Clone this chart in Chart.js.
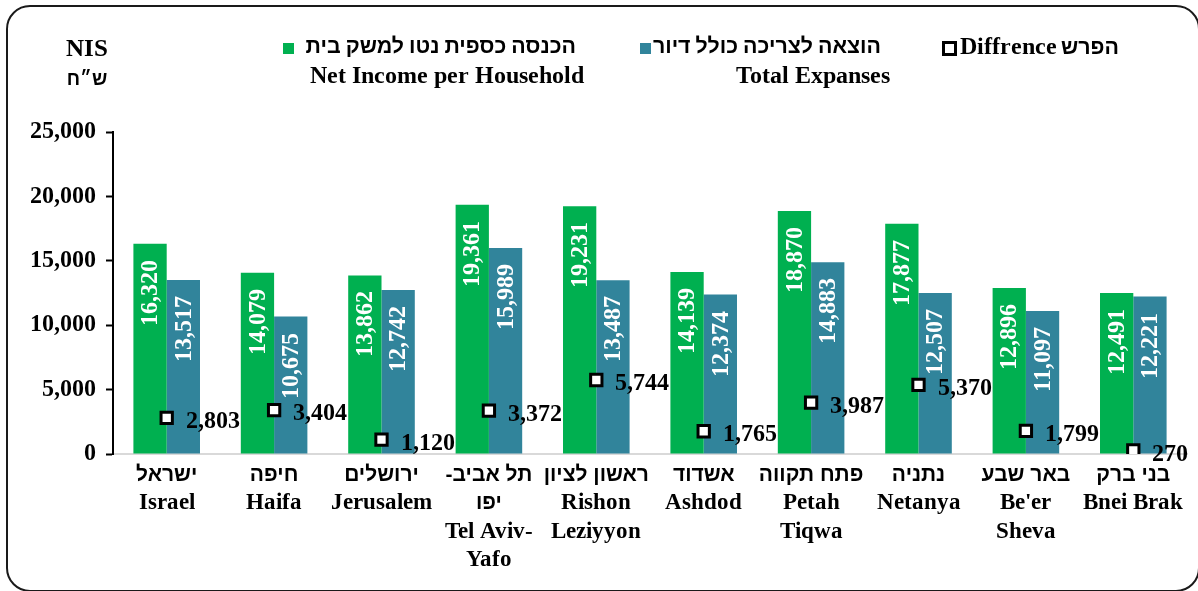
<!DOCTYPE html>
<html>
<head>
<meta charset="utf-8">
<script src="https://cdn.jsdelivr.net/npm/chart.js@4.4.1/dist/chart.umd.min.js"></script>
<style>
  /* Latin glyphs from the serif, Hebrew falls through to a bold sans */
  @font-face {
    font-family: 'LatinSerif';
    src: local('Liberation Serif Bold'), local('LiberationSerif-Bold');
    font-weight: 700;
    unicode-range: U+0000-024F, U+2000-206F;
  }
  html, body { margin: 0; padding: 0; background: #fff; }
  #wrap { position: relative; width: 1198px; height: 591px; overflow: hidden; font-family: LatinSerif, "Liberation Sans", "DejaVu Sans", sans-serif; font-weight: bold; color: #000; }
  #frame { position: absolute; left: 6px; top: 5px; width: 1194px; height: 587px; border: 2px solid #1a1a1a; border-radius: 24px; box-sizing: border-box; }
  canvas { position: absolute; left: 0; top: 0; }
  .lg { position: absolute; white-space: nowrap; }
  .unit { left: 58px; width: 58px; text-align: center; font-size: 25px; line-height: 29px; top: 33px; }
  .unit span { font-size: 19px; }
  .box { position: absolute; width: 11px; height: 11px; }
  .he { font-size: 21.4px; }
  .en { font-size: 24px; }
</style>
</head>
<body>
<div id="wrap">
  <canvas id="chart" width="1198" height="591"></canvas>
  <div id="frame"></div>
  <div class="lg unit">NIS<br><span>ש״ח</span></div>

  <div class="box" style="left:283px; top:43px; background:#00B050;"></div>
  <div class="lg he" style="right:622px; top:34px;">הכנסה כספית נטו למשק בית</div>
  <div class="lg en" style="right:614px; top:62px;">Net Income per Household</div>

  <div class="box" style="left:640px; top:43px; background:#31849B;"></div>
  <div class="lg he" style="right:317px; top:34px;">הוצאה לצריכה כולל דיור</div>
  <div class="lg en" style="right:308px; top:62px;">Total Expanses</div>

  <div class="box" style="left:942px; top:41px; width:9px; height:9px; border:3px solid #000; background:#fff;"></div>
  <div class="lg" style="left:960px; top:33px;"><span class="en">Diffrence</span> <span class="he">הפרש</span></div>
</div>
<script>
// categories: Hebrew name + English name lines
const cities = [
  ['ישראל', 'Israel'],
  ['חיפה', 'Haifa'],
  ['ירושלים', 'Jerusalem'],
  ['תל אביב-', 'יפו', 'Tel Aviv-', 'Yafo'],
  ['ראשון לציון', 'Rishon', 'Leziyyon'],
  ['אשדוד', 'Ashdod'],
  ['פתח תקווה', 'Petah', 'Tiqwa'],
  ['נתניה', 'Netanya'],
  ['באר שבע', "Be'er", 'Sheva'],
  ['בני ברק', 'Bnei Brak']
]
const netIncome = [16320, 14079, 13862, 19361, 19231, 14139, 18870, 17877, 12896, 12491]
const expenses = [13517, 10675, 12742, 15989, 13487, 12374, 14883, 12507, 11097, 12221]
const difference = [2803, 3404, 1120, 3372, 5744, 1765, 3987, 5370, 1799, 270]
const yTicks = [0, 5000, 10000, 15000, 20000, 25000]

const FONT = 'LatinSerif, "Liberation Sans", "DejaVu Sans", sans-serif'
const HEB_FONT = 'bold 21px "Liberation Sans", "DejaVu Sans", sans-serif'
const LAT_FONT = 'bold 23px ' + FONT
const fmt = v => v.toLocaleString('en-US')
const isHebrew = s => /[\u0590-\u05FF]/.test(s)

// rotated white labels inside bars + labels next to difference markers
const labelPlugin = {
  id: 'valueLabels',
  afterDatasetsDraw(chart) {
    const ctx = chart.ctx
    ctx.save()
    ctx.font = 'bold 24px ' + FONT
    ;[0, 1].forEach(di => {
      const meta = chart.getDatasetMeta(di)
      const values = chart.data.datasets[di].data
      meta.data.forEach((bar, i) => {
        ctx.save()
        ctx.translate(bar.x, bar.y + 16)
        ctx.rotate(-Math.PI / 2)
        ctx.fillStyle = '#fff'
        ctx.textAlign = 'right'
        ctx.textBaseline = 'middle'
        ctx.fillText(fmt(values[i]), 0, 1)
        ctx.restore()
      })
    })
    const pMeta = chart.getDatasetMeta(2)
    pMeta.data.forEach((pt, i) => {
      ctx.fillStyle = '#000'
      ctx.textAlign = 'left'
      ctx.textBaseline = 'middle'
      ctx.fillText(fmt(difference[i]), pt.x + 19, pt.y + 4)
    })
    ctx.restore()
  }
}

// category labels: Hebrew line in sans (rtl), English lines in serif
const cityLabels = {
  id: 'cityLabels',
  afterDraw(chart) {
    const ctx = chart.ctx
    const xs = chart.scales.x
    ctx.save()
    ctx.fillStyle = '#000'
    ctx.textAlign = 'center'
    ctx.textBaseline = 'middle'
    cities.forEach((lines, i) => {
      const x = xs.getPixelForValue(i)
      lines.forEach((line, j) => {
        const heb = isHebrew(line)
        ctx.font = heb ? HEB_FONT : LAT_FONT
        ctx.direction = heb ? 'rtl' : 'ltr'
        ctx.fillText(line, x, xs.top + 21 + j * 28.5)
      })
    })
    ctx.restore()
  }
}

function draw() {
  new Chart(document.getElementById('chart'), {
    type: 'bar',
    data: {
      labels: cities,
      datasets: [{
        label: 'Net Income per Household',
        data: netIncome,
        backgroundColor: '#00B050',
        categoryPercentage: 0.62,
        barPercentage: 1,
        order: 1
      }, {
        label: 'Total Expanses',
        data: expenses,
        backgroundColor: '#31849B',
        categoryPercentage: 0.62,
        barPercentage: 1,
        order: 1
      }, {
        label: 'Diffrence',
        type: 'line',
        data: difference,
        showLine: false,
        pointStyle: 'rect',
        pointRadius: 8,
        pointHoverRadius: 8,
        pointBorderWidth: 3,
        pointBorderColor: '#000',
        pointBackgroundColor: '#fff',
        order: 0
      }]
    },
    options: {
      responsive: false,
      animation: false,
      events: [],
      layout: { padding: { top: 132, right: 10, bottom: 10, left: 0 } },
      plugins: {
        legend: { display: false },
        tooltip: { enabled: false }
      },
      scales: {
        x: {
          grid: { display: false, drawTicks: false },
          border: { color: '#D9D9D9', width: 2 },
          ticks: { display: false },
          afterFit(scale) { scale.height = 127 }
        },
        y: {
          min: 0,
          max: 25000,
          afterBuildTicks(scale) { scale.ticks = yTicks.map(v => ({ value: v })) },
          grid: { drawOnChartArea: false, drawTicks: true, tickLength: 7, color: '#000', tickWidth: 2 },
          border: { color: '#000', width: 2 },
          ticks: {
            color: '#000',
            padding: 10,
            font: { family: FONT, size: 24, weight: 'bold' },
            callback: v => fmt(v)
          },
          afterFit(scale) { scale.width = 113 }
        }
      }
    },
    plugins: [labelPlugin, cityLabels]
  })
}

Promise.all([
  document.fonts.load('bold 24px LatinSerif'),
  document.fonts.load('bold 24px "Liberation Sans"', 'אב')
]).then(draw, draw)
</script>
</body>
</html>
